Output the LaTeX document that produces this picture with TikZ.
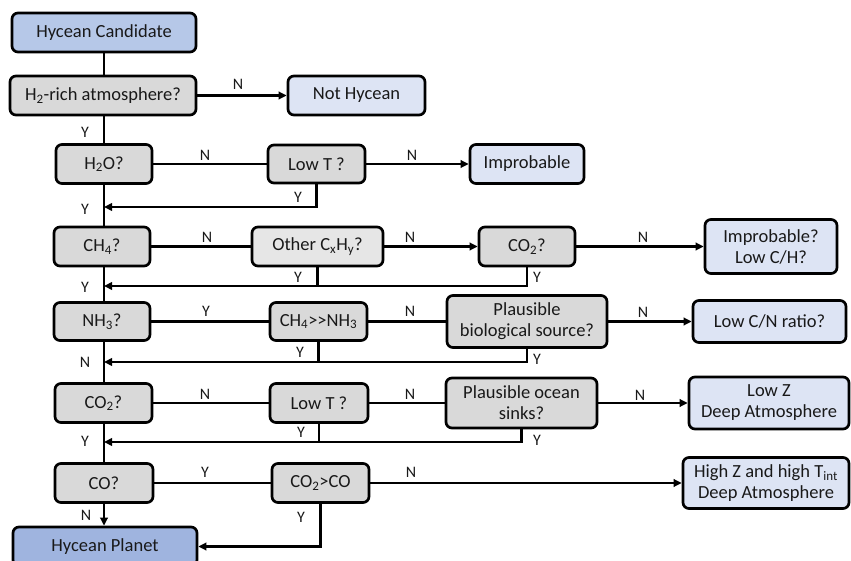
\documentclass[tikz,border=0pt]{standalone}
\usepackage{fontspec}
\setmainfont{Carlito}
\usetikzlibrary{arrows.meta}
\definecolor{candblue}{HTML}{B6C8E8}
\definecolor{planetblue}{HTML}{9FB4DF}
\definecolor{outc}{HTML}{DDE4F4}
\definecolor{qgray}{HTML}{D9D9D9}
\definecolor{qlight}{HTML}{E6E6E6}
\tikzset{
  box/.style={draw=black, line width=2.7pt, rounded corners=6pt, inner sep=2pt, align=center,
              font=\fontsize{18.5}{21}\selectfont, text=black!90},
  qbox/.style={box, fill=qgray},
  qlbox/.style={box, fill=qlight},
  obox/.style={box, fill=outc},
  conn/.style={line width=2.6pt},
  arr/.style={line width=2.6pt, -{Triangle[length=8pt,width=7.5pt]}},
  lab/.style={font=\fontsize{16}{18}\selectfont, text=black!90, inner sep=0pt}
}
\begin{document}
\begin{tikzpicture}[x=1pt,y=-1pt]
\useasboundingbox (0,0) rectangle (851,561);
\clip (0,0) rectangle (851,561);
\fill[white] (0,0) rectangle (851,561);
\coordinate (sp) at (104,0);
% boxes
\node[box, fill=candblue, minimum width=184pt, minimum height=39pt] (cand) at (104,32.5) {Hycean Candidate};
\node[qbox, minimum width=186pt, minimum height=39pt] (h2) at (103,95.5) {H\textsubscript{2}-rich atmosphere?};
\node[obox, minimum width=137pt, minimum height=39pt] (noth) at (356.5,95.5) {Not Hycean};
\node[qbox, minimum width=96pt, minimum height=39pt] (h2o) at (104,164) {H\textsubscript{2}O?};
\node[qbox, minimum width=97pt, minimum height=38pt] (lowt1) at (316.5,164) {Low T ?};
\node[obox, minimum width=114pt, minimum height=39pt] (impr) at (527,164) {Improbable};
\node[qbox, minimum width=96pt, minimum height=39pt] (ch4) at (102,246.5) {CH\textsubscript{4}?};
\node[qlbox, minimum width=131pt, minimum height=39pt] (other) at (317.5,246.5) {Other C\textsubscript{x}H\textsubscript{y}?};
\node[qbox, minimum width=96pt, minimum height=39pt] (co2a) at (527,246.5) {CO\textsubscript{2}?};
\node[obox, minimum width=132pt, minimum height=54pt] (implow) at (771,246.5) {Improbable?\\Low C/H?};
\node[qbox, minimum width=96pt, minimum height=38pt] (nh3) at (102,321.5) {NH\textsubscript{3}?};
\node[qbox, minimum width=97pt, minimum height=38pt] (ch4nh3) at (318.5,321.5) {CH\textsubscript{4}>{}>NH\textsubscript{3}};
\node[qbox, minimum width=160pt, minimum height=52pt] (bio) at (527,321.5) {Plausible\\biological source?};
\node[obox, minimum width=153pt, minimum height=42pt] (lowcn) at (769.5,321.5) {Low C/N ratio?};
\node[qbox, minimum width=97pt, minimum height=39pt] (co2b) at (103.5,403) {CO\textsubscript{2}?};
\node[qbox, minimum width=98pt, minimum height=39pt] (lowt2) at (319,403) {Low T ?};
\node[qbox, minimum width=151pt, minimum height=50pt] (ocean) at (521.5,403) {Plausible ocean\\sinks?};
\node[obox, minimum width=160pt, minimum height=52pt] (lowz) at (769,403) {Low Z\\Deep Atmosphere};
\node[qbox, minimum width=98pt, minimum height=39pt] (co) at (104,483) {CO?};
\node[qbox, minimum width=97pt, minimum height=39pt] (co2co) at (320.5,483) {CO\textsubscript{2}>CO};
\node[obox, minimum width=166pt, minimum height=51pt] (highz) at (766,483) {High Z and high T\textsubscript{int}\\Deep Atmosphere};
\node[box, fill=planetblue, minimum width=184pt, minimum height=39pt] (planet) at (105,546.5) {Hycean Planet};
% junction coordinates on the spine
\coordinate (j1) at (104,207);
\coordinate (j2) at (104,286);
\coordinate (j3) at (104,362);
\coordinate (j4) at (104,442);
% spine
\draw[conn] (cand.south -| sp) -- (h2.north -| sp);
\draw[conn] (h2.south -| sp) -- (h2o.north -| sp);
\draw[conn] (h2o.south -| sp) -- (ch4.north -| sp);
\draw[conn] (ch4.south -| sp) -- (nh3.north -| sp);
\draw[conn] (nh3.south -| sp) -- (co2b.north -| sp);
\draw[conn] (co2b.south -| sp) -- (co.north -| sp);
\draw[arr] (co.south -| sp) -- (planet.north -| sp);
% row 1
\draw[arr] (h2.east) -- (noth.west);
% row 2
\draw[conn] (h2o.east) -- (lowt1.west);
\draw[arr] (lowt1.east) -- (impr.west);
\draw[arr] (lowt1.south) |- (j1);
% row 3
\draw[conn] (ch4.east) -- (other.west);
\draw[arr] (other.east) -- (co2a.west);
\draw[arr] (co2a.east) -- (implow.west);
\draw[arr] (co2a.south) |- (j2);
\draw[conn] (other.south) -- (other.south |- j2);
% row 4
\draw[conn] (nh3.east) -- (ch4nh3.west);
\draw[conn] (ch4nh3.east) -- (bio.west);
\draw[arr] (bio.east) -- (lowcn.west);
\draw[arr] (bio.south) |- (j3);
\draw[conn] (ch4nh3.south) -- (ch4nh3.south |- j3);
% row 5
\draw[conn] (co2b.east) -- (lowt2.west);
\draw[conn] (lowt2.east) -- (ocean.west);
\draw[arr] (ocean.east) -- (lowz.west);
\draw[arr] (ocean.south) |- (j4);
\draw[conn] (lowt2.south) -- (lowt2.south |- j4);
% row 6
\draw[conn] (co.east) -- (co2co.west);
\draw[arr] (co2co.east) -- (highz.west);
\draw[arr] (co2co.south) |- (planet.east);
% labels
\node[lab] (l1) at (238,84) {N};
\node[lab] (l2) at (85,132) {Y};
\node[lab] (l3) at (205,155) {N};
\node[lab] (l4) at (412,155) {N};
\node[lab] (l5) at (298,197) {Y};
\node[lab] (l6) at (85,209) {Y};
\node[lab] (l7) at (207,237) {N};
\node[lab] (l8) at (410,237) {N};
\node[lab] (l9) at (643,237) {N};
\node[lab] (l10) at (298,277) {Y};
\node[lab] (l11) at (537,277) {Y};
\node[lab] (l12) at (85,287) {Y};
\node[lab] (l13) at (206,311) {Y};
\node[lab] (l14) at (410,311) {N};
\node[lab] (l15) at (643,312) {N};
\node[lab] (l16) at (300,352) {Y};
\node[lab] (l17) at (537,359) {Y};
\node[lab] (l18) at (85,362) {N};
\node[lab] (l19) at (205,394) {N};
\node[lab] (l20) at (410,394) {N};
\node[lab] (l21) at (640,395) {N};
\node[lab] (l22) at (301,432) {Y};
\node[lab] (l23) at (537,440) {Y};
\node[lab] (l24) at (85,441) {Y};
\node[lab] (l25) at (205,472) {Y};
\node[lab] (l26) at (411,472) {N};
\node[lab] (l27) at (86,515) {N};
\node[lab] (l28) at (301,517) {Y};
\end{tikzpicture}
\end{document}
